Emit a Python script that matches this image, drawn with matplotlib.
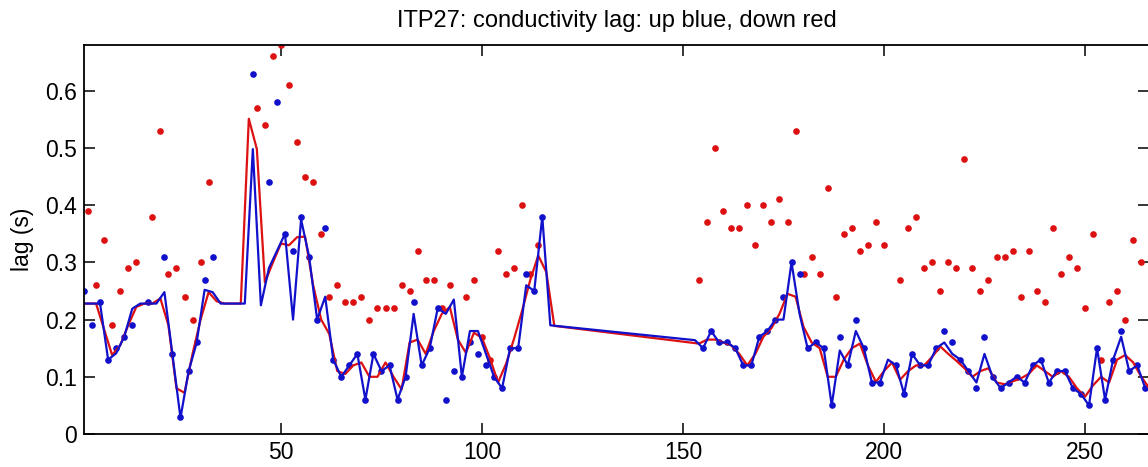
import numpy as np
import matplotlib.pyplot as plt

plt.rcParams['font.family'] = ['Liberation Sans', 'DejaVu Sans']

# ---------------- DATA ----------------
# up profiles (odd numbers): measured lag
up_prof = [1, 3, 5, 7, 9, 11, 13, 17, 21, 23, 25, 27, 29, 31, 33, 43, 47, 49,
           51, 53, 55, 57, 59, 61, 63, 65, 67, 69, 71, 73, 75, 77, 79, 81, 83,
           85, 87, 89, 91, 93, 95, 97, 99, 101, 103, 105, 107, 109, 111, 113,
           115, 155, 157, 159, 161, 163, 165, 167, 169, 171, 173, 175, 177,
           179, 181, 183, 185, 187, 189, 191, 193, 195, 197, 199, 203, 205,
           207, 209, 211, 213, 215, 217, 219, 221, 223, 225, 227, 229, 231,
           233, 235, 237, 239, 241, 243, 245, 247, 249, 251, 253, 255, 257,
           259, 261, 263, 265]
up_lag = [0.25, 0.19, 0.23, 0.13, 0.15, 0.17, 0.19, 0.23, 0.31, 0.14, 0.03,
          0.11, 0.16, 0.27, 0.31, 0.63, 0.44, 0.58, 0.35, 0.32, 0.38, 0.31,
          0.20, 0.36, 0.13, 0.10, 0.12, 0.14, 0.06, 0.14, 0.11, 0.12, 0.06,
          0.10, 0.23, 0.12, 0.15, 0.22, 0.06, 0.11, 0.10, 0.16, 0.14, 0.12,
          0.10, 0.08, 0.15, 0.15, 0.28, 0.25, 0.38, 0.15, 0.18, 0.16, 0.16,
          0.15, 0.12, 0.12, 0.17, 0.18, 0.20, 0.24, 0.30, 0.28, 0.15, 0.16,
          0.15, 0.05, 0.17, 0.12, 0.20, 0.15, 0.09, 0.09, 0.12, 0.07, 0.14,
          0.12, 0.12, 0.15, 0.18, 0.16, 0.13, 0.11, 0.08, 0.17, 0.10, 0.08,
          0.09, 0.10, 0.09, 0.12, 0.13, 0.09, 0.11, 0.11, 0.08, 0.07, 0.05,
          0.15, 0.06, 0.13, 0.18, 0.11, 0.12, 0.08]

# down profiles (even numbers): measured lag
down_prof = [2, 4, 6, 8, 10, 12, 14, 18, 20, 22, 24, 26, 28, 30, 32, 44, 46,
             48, 50, 52, 54, 56, 58, 60, 62, 64, 66, 68, 70, 72, 74, 76, 78,
             80, 82, 84, 86, 88, 90, 92, 96, 98, 100, 102, 104, 106, 108, 110,
             112, 114, 154, 156, 158, 160, 162, 164, 166, 168, 170, 172, 174,
             176, 178, 180, 182, 184, 186, 188, 190, 192, 194, 196, 198, 200,
             204, 206, 208, 210, 212, 214, 216, 218, 220, 222, 224, 226, 228,
             230, 232, 234, 236, 238, 240, 242, 244, 246, 248, 250, 252, 254,
             256, 258, 260, 262, 264]
down_lag = [0.39, 0.26, 0.34, 0.19, 0.25, 0.29, 0.30, 0.38, 0.53, 0.28, 0.29,
            0.24, 0.20, 0.30, 0.44, 0.57, 0.54, 0.66, 0.68, 0.61, 0.51, 0.45,
            0.44, 0.35, 0.24, 0.26, 0.23, 0.23, 0.24, 0.20, 0.22, 0.22, 0.22,
            0.26, 0.25, 0.32, 0.27, 0.27, 0.22, 0.26, 0.24, 0.27, 0.17, 0.13,
            0.32, 0.28, 0.29, 0.40, 0.28, 0.33, 0.27, 0.37, 0.50, 0.39, 0.36,
            0.36, 0.40, 0.33, 0.40, 0.37, 0.41, 0.37, 0.53, 0.28, 0.31, 0.28,
            0.43, 0.24, 0.35, 0.36, 0.32, 0.33, 0.37, 0.33, 0.27, 0.36, 0.38,
            0.29, 0.30, 0.25, 0.30, 0.29, 0.48, 0.29, 0.25, 0.27, 0.31, 0.31,
            0.32, 0.24, 0.32, 0.25, 0.23, 0.36, 0.28, 0.31, 0.29, 0.22, 0.35,
            0.13, 0.23, 0.25, 0.20, 0.34, 0.30]

# filtered lag (blue line, up profiles)
up_fit_prof = [1, 3, 5, 7, 9, 11, 13, 15, 17, 19, 21, 23, 25, 27, 29, 31, 33,
               35, 37, 39, 41, 43, 45, 47, 49, 51, 53, 55, 57, 59, 61, 63, 65,
               67, 69, 71, 73, 75, 77, 79, 81, 83, 85, 87, 89, 91, 93, 95, 97,
               99, 101, 103, 105, 107, 109, 111, 113, 115, 117, 153, 155, 157,
               159, 161, 163, 165, 167, 169, 171, 173, 175, 177, 179, 181, 183,
               185, 187, 189, 191, 193, 195, 197, 199, 201, 203, 205, 207, 209,
               211, 213, 215, 217, 219, 221, 223, 225, 227, 229, 231, 233, 235,
               237, 239, 241, 243, 245, 247, 249, 251, 253, 255, 257, 259, 261,
               263, 265]
up_fit_lag = [0.228, 0.228, 0.228, 0.13, 0.141, 0.17, 0.219, 0.228, 0.228,
              0.228, 0.248, 0.139, 0.028, 0.109, 0.159, 0.252, 0.248, 0.228,
              0.228, 0.228, 0.228, 0.498, 0.225, 0.29, 0.32, 0.35, 0.20, 0.375,
              0.31, 0.20, 0.24, 0.13, 0.10, 0.12, 0.14, 0.06, 0.14, 0.11, 0.12,
              0.06, 0.10, 0.21, 0.12, 0.15, 0.22, 0.21, 0.235, 0.10, 0.18,
              0.18, 0.14, 0.10, 0.08, 0.15, 0.15, 0.26, 0.25, 0.38, 0.19,
              0.164, 0.15, 0.18, 0.16, 0.16, 0.15, 0.12, 0.12, 0.17, 0.18,
              0.20, 0.20, 0.30, 0.21, 0.15, 0.16, 0.15, 0.05, 0.146, 0.12,
              0.18, 0.15, 0.09, 0.09, 0.13, 0.12, 0.07, 0.14, 0.12, 0.12, 0.15,
              0.16, 0.14, 0.13, 0.11, 0.09, 0.14, 0.10, 0.08, 0.09, 0.10, 0.09,
              0.12, 0.13, 0.09, 0.11, 0.11, 0.08, 0.07, 0.05, 0.15, 0.06, 0.13,
              0.17, 0.11, 0.12, 0.08]

# filtered lag (red line, down profiles)
down_fit_prof = [1, 2, 4, 6, 8, 10, 12, 14, 16, 18, 20, 22, 24, 26, 28, 30,
                 32, 34, 36, 38, 40, 42, 44, 46, 48, 50, 52, 54, 56, 58, 60,
                 62, 64, 66, 68, 70, 72, 74, 76, 78, 80, 82, 84, 86, 88, 90,
                 92, 94, 96, 98, 100, 102, 104, 106, 108, 110, 112, 114, 116,
                 118, 154, 156, 158, 160, 162, 164, 166, 168, 170, 172, 174,
                 176, 178, 180, 182, 184, 186, 188, 190, 192, 194, 196, 198,
                 200, 202, 204, 206, 208, 210, 212, 214, 216, 218, 220, 222,
                 224, 226, 228, 230, 232, 234, 236, 238, 240, 242, 244, 246,
                 248, 250, 252, 254, 256, 258, 260, 262, 264, 266]
down_fit_lag = [0.228, 0.228, 0.228, 0.183, 0.138, 0.155, 0.19, 0.222, 0.228,
                0.228, 0.237, 0.19, 0.08, 0.072, 0.14, 0.20, 0.248, 0.232,
                0.228, 0.228, 0.228, 0.551, 0.498, 0.265, 0.30, 0.333, 0.33,
                0.344, 0.345, 0.26, 0.20, 0.175, 0.11, 0.105, 0.12, 0.125,
                0.10, 0.10, 0.125, 0.10, 0.078, 0.16, 0.165, 0.14, 0.18, 0.21,
                0.222, 0.165, 0.142, 0.177, 0.168, 0.132, 0.09, 0.123, 0.167,
                0.216, 0.269, 0.312, 0.283, 0.189, 0.158, 0.165, 0.165, 0.16,
                0.155, 0.14, 0.12, 0.14, 0.17, 0.185, 0.21, 0.245, 0.24,
                0.187, 0.16, 0.15, 0.10, 0.10, 0.13, 0.15, 0.158, 0.12, 0.091,
                0.11, 0.125, 0.095, 0.11, 0.12, 0.12, 0.135, 0.153, 0.14,
                0.128, 0.115, 0.10, 0.11, 0.115, 0.09, 0.087, 0.092, 0.097,
                0.105, 0.12, 0.11, 0.10, 0.11, 0.10, 0.08, 0.065, 0.085, 0.10,
                0.09, 0.13, 0.138, 0.125, 0.10, 0.08]

red = '#dd1111'
blue = '#1111cc'

# ---------------- PLOT ----------------
fig = plt.figure(figsize=(11.48, 4.67), dpi=100)
ax = fig.add_axes([84 / 1148, 33 / 467, 1065.3 / 1148, 389 / 467])

ax.plot(down_prof, down_lag, 'o', color=red, markersize=4.8, markeredgewidth=0)
ax.plot(up_prof, up_lag, 'o', color=blue, markersize=4.8, markeredgewidth=0)
ax.plot(down_fit_prof, down_fit_lag, '-', color=red, linewidth=1.6)
ax.plot(up_fit_prof, up_fit_lag, '-', color=blue, linewidth=1.6)

ax.set_xlim(1, 266)
ax.set_ylim(0, 0.68)
ax.set_xticks([50, 100, 150, 200, 250])
ax.set_yticks([0, 0.1, 0.2, 0.3, 0.4, 0.5, 0.6])
ax.set_yticklabels(['0', '0.1', '0.2', '0.3', '0.4', '0.5', '0.6'])
ax.tick_params(direction='in', length=8, width=1.1, labelsize=16.5,
               top=True, right=True, pad=5)
for s in ax.spines.values():
    s.set_linewidth(1.3)

ax.set_ylabel('lag (s)', fontsize=16.5, labelpad=8)
ax.set_title('ITP27: conductivity lag: up blue, down red', fontsize=17, pad=13)

fig.savefig('out.png', dpi=100)
